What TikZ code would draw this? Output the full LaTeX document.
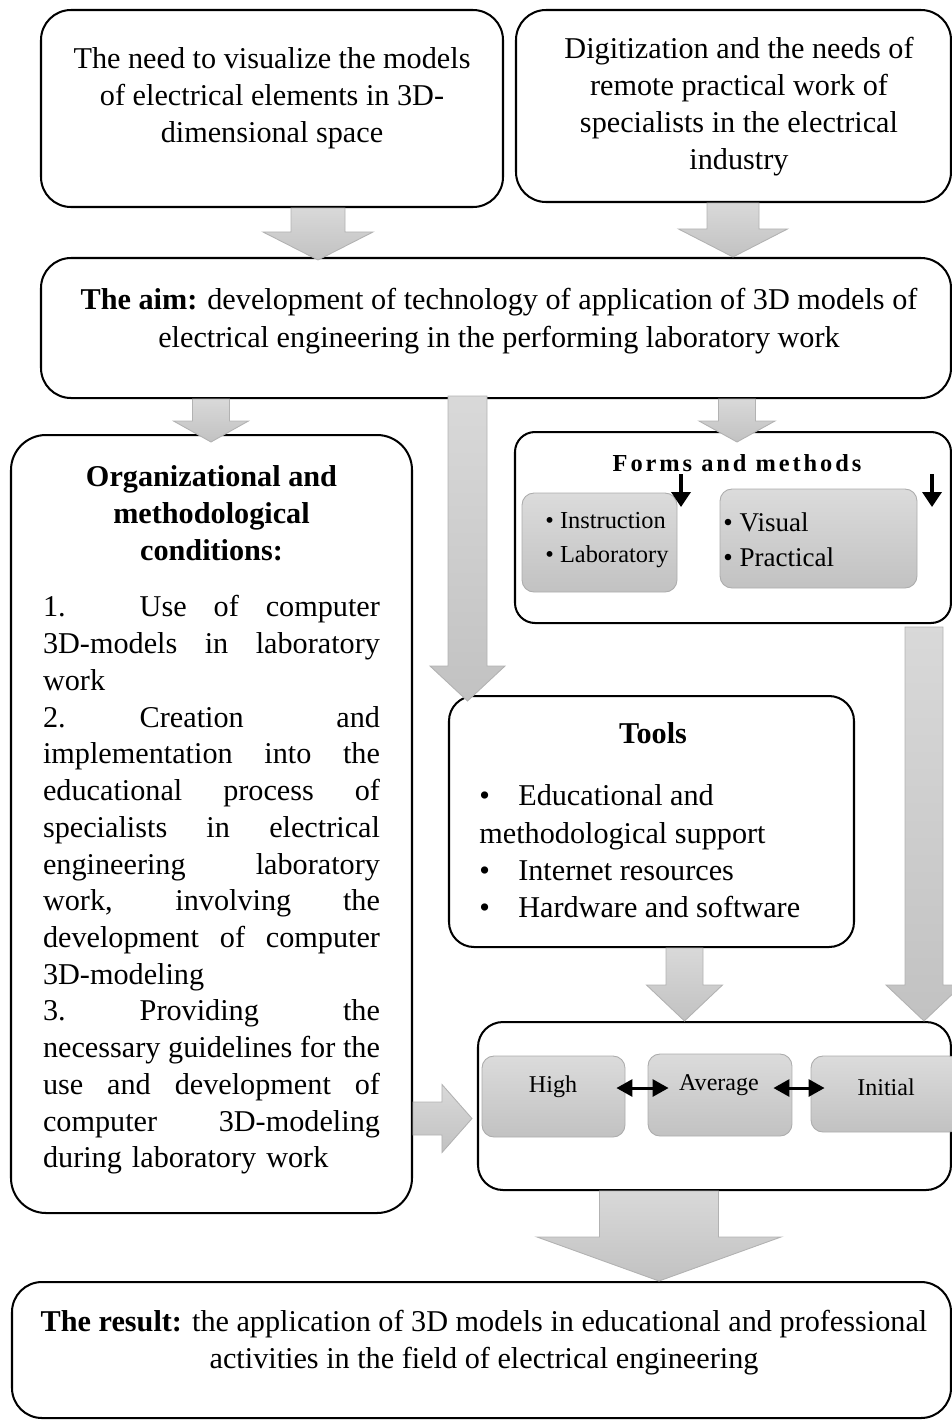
\documentclass[tikz,border=0pt]{standalone}
\usepackage{fontspec}
\setmainfont{Liberation Serif}
\usetikzlibrary{arrows.meta,calc}

\newcommand{\pxu}{0.02cm}
\newcommand{\bodyfont}{\fontsize{17.2}{21.2}\selectfont}
\newcommand{\condfont}{\fontsize{17.2}{20.9}\selectfont}
\newcommand{\num}[1]{\makebox[3.2em][l]{#1}}
\newcommand{\jline}[1]{\hbox to 6.74cm{\spaceskip=0.25em plus 1fil\relax #1}}
\newcommand{\lline}[1]{\hbox to 6.74cm{#1\hfil}}
\newcommand{\blockdown}[6]{%
	\path[bigarrow] let \p1=(#2), \p2=(#3), \p3=(#1,0) in
		(\x3-#4*\pxu,\y1) -- (\x3+#4*\pxu,\y1) -- (\x3+#4*\pxu,\y2+#6*\pxu) -- (\x3+#5*\pxu,\y2+#6*\pxu)
		-- (\x3,\y2) -- (\x3-#5*\pxu,\y2+#6*\pxu) -- (\x3-#4*\pxu,\y2+#6*\pxu) -- cycle;}
\newcommand{\blockright}[6]{%
	\path[bigarrow] let \p1=(#2), \p2=(#3), \p3=(0,#1) in
		(\x1,\y3+#4*\pxu) -- (\x2-#6*\pxu,\y3+#4*\pxu) -- (\x2-#6*\pxu,\y3+#5*\pxu) -- (\x2,\y3)
		-- (\x2-#6*\pxu,\y3-#5*\pxu) -- (\x2-#6*\pxu,\y3-#4*\pxu) -- (\x1,\y3-#4*\pxu) -- cycle;}

\tikzset{
	box/.style={draw, line width=1.15pt, rounded corners=0.6cm},
	wh/.style 2 args={minimum width=#1*\pxu, minimum height=#2*\pxu, inner sep=0pt},
	greybox/.style={draw=gray!65, line width=0.5pt, rounded corners=0.24cm, top color=gray!28, bottom color=gray!48},
	txt/.style={font=\bodyfont, inner sep=0pt, align=center},
	bigarrow/.style={draw=gray!60, line width=0.5pt, top color=gray!30, bottom color=gray!48},
	blackarrow/.style={line width=2pt, -{Triangle[width=0.38cm,length=0.3cm]}},
	dblarrow/.style={line width=1.7pt, {Triangle[width=0.34cm,length=0.32cm]}-{Triangle[width=0.34cm,length=0.32cm]}}
}

\begin{document}
\begin{tikzpicture}[x=0.02cm, y=-0.02cm]
		\useasboundingbox (0,0) rectangle (952,1421);
		\clip (0,0) rectangle (952,1421);

		\node[box, wh={462}{197}] (need) at (272,108.5) {};
		\node[txt] (needtxt) at (272,98) {The need to visualize the models\\of electrical elements in 3D-\\dimensional space};
		\node[box, wh={435}{192}] (digit) at (733.5,106) {};
		\node[txt] (digittxt) at (739,106.5) {Digitization and the needs of\\remote practical work of\\specialists in the electrical\\industry};

		\node[box, wh={910}{140}] (aim) at (496,328) {};
		\node[txt] (aimtxt) at (499,321) {\textbf{The aim:} development of technology of application of 3D models of\\electrical engineering in the performing laboratory work};

		\node[box, wh={401}{778}, rounded corners=0.7cm] (org) at (211.5,824) {};
		\node[txt, font=\bodyfont\bfseries] (orgtitle) at (211.5,513) {Organizational and\\methodological\\conditions:};
		\node[txt, font=\condfont, text width=6.74cm, align=left] (orgbody) at (211.5,885) {%
			\jline{\num{1.}Use of computer}
			\jline{3D-models in laboratory}
			\lline{work}
			\jline{\num{2.}Creation and}
			\jline{implementation into the}
			\jline{educational process of}
			\jline{specialists in electrical}
			\jline{engineering laboratory}
			\jline{work, involving the}
			\jline{development of computer}
			\lline{3D-modeling}
			\jline{\num{3.}Providing the}
			\jline{necessary guidelines for the}
			\jline{use and development of}
			\jline{computer 3D-modeling}
			\lline{during laboratory work}};

		\node[box, wh={436}{191}, rounded corners=0.4cm] (forms) at (733,527.5) {};
		\node[txt, font=\fontsize{13.9}{16}\selectfont\bfseries\addfontfeature{LetterSpace=12}] (formstitle) at (737,463) {Forms and methods};
		\node[greybox, wh={155}{99}] (formsA) at (599.5,542.5) {};
		\node[greybox, wh={197}{99}] (formsB) at (818.5,538.5) {};
		\node[txt, font=\fontsize{13.9}{19.3}\selectfont, align=left, anchor=west] (formsAtxt) at (545,540) {\textbullet\ Instruction\\\textbullet\ Laboratory};
		\node[txt, font=\fontsize{15.4}{19.9}\selectfont, align=left, anchor=west] (formsBtxt) at (723,539.5) {\textbullet\ Visual\\\textbullet\ Practical};
		\coordinate (fa1) at (681,474);
		\coordinate (fa2) at (681,507);
		\coordinate (fb1) at (932,474);
		\coordinate (fb2) at (932,507);
		\draw[blackarrow] (fa1) -- (fa2);
		\draw[blackarrow] (fb1) -- (fb2);

		\node[box, wh={405}{251}, rounded corners=0.5cm] (tools) at (651.5,821.5) {};
		\node[txt, font=\bodyfont\bfseries] (toolstitle) at (653,733) {Tools};
		\node[txt, align=left, anchor=west] (toolslist) at (479,851.5) {\makebox[1.29em][l]{\textbullet}Educational and\\methodological support\\\makebox[1.29em][l]{\textbullet}Internet resources\\\makebox[1.29em][l]{\textbullet}Hardware and software};

		\node[box, wh={473}{168}, rounded corners=0.5cm] (levels) at (714.5,1106) {};
		\node[greybox, wh={143}{81}] (high) at (553.5,1096.5) {};
		\node[greybox, wh={144}{82}] (avg) at (720,1095) {};
		\node[greybox, wh={150}{76}] (init) at (886,1094) {};
		\node[txt, font=\fontsize{13.7}{16}\selectfont] (hightxt) at (553,1087) {High};
		\node[txt, font=\fontsize{13.7}{16}\selectfont] (avgtxt) at (719,1085) {Average};
		\node[txt, font=\fontsize{13.7}{16}\selectfont] (inittxt) at (886,1087) {Initial};
		\draw[dblarrow] ([shift={(-9,-8.5)}]high.east) -- ([shift={(21,-7)}]avg.west);
		\draw[dblarrow] ([shift={(-19,-7)}]avg.east) -- ([shift={(14,-6)}]init.west);

		\node[box, wh={939}{136}] (result) at (481.5,1350) {};
		\node[txt] (resulttxt) at (484,1342.5) {\textbf{The result:} the application of 3D models in educational and professional\\activities in the field of electrical engineering};

		\blockdown{318}{need.south}{[yshift=-3*\pxu]aim.north}{27}{55}{28}
		\blockdown{733}{digit.south}{aim.north}{26}{54.5}{28}
		\blockdown{211}{aim.south}{[yshift=-8*\pxu]org.north}{18.5}{37.5}{21}
		\blockdown{467.5}{[yshift=3*\pxu]aim.south}{[yshift=-6*\pxu]tools.north}{19.5}{37.5}{35}
		\blockdown{737}{aim.south}{[yshift=-11*\pxu]forms.north}{18.5}{38}{21}
		\blockdown{924}{[yshift=-3*\pxu]forms.south}{levels.north}{19}{38}{36}
		\blockdown{684.5}{tools.south}{levels.north}{18.5}{38}{36}
		\blockright{1118.5}{org.east}{[xshift=-5*\pxu]levels.west}{16.5}{34}{30}
		\blockdown{659}{levels.south}{result.north}{59.5}{122}{44}
\end{tikzpicture}
\end{document}
